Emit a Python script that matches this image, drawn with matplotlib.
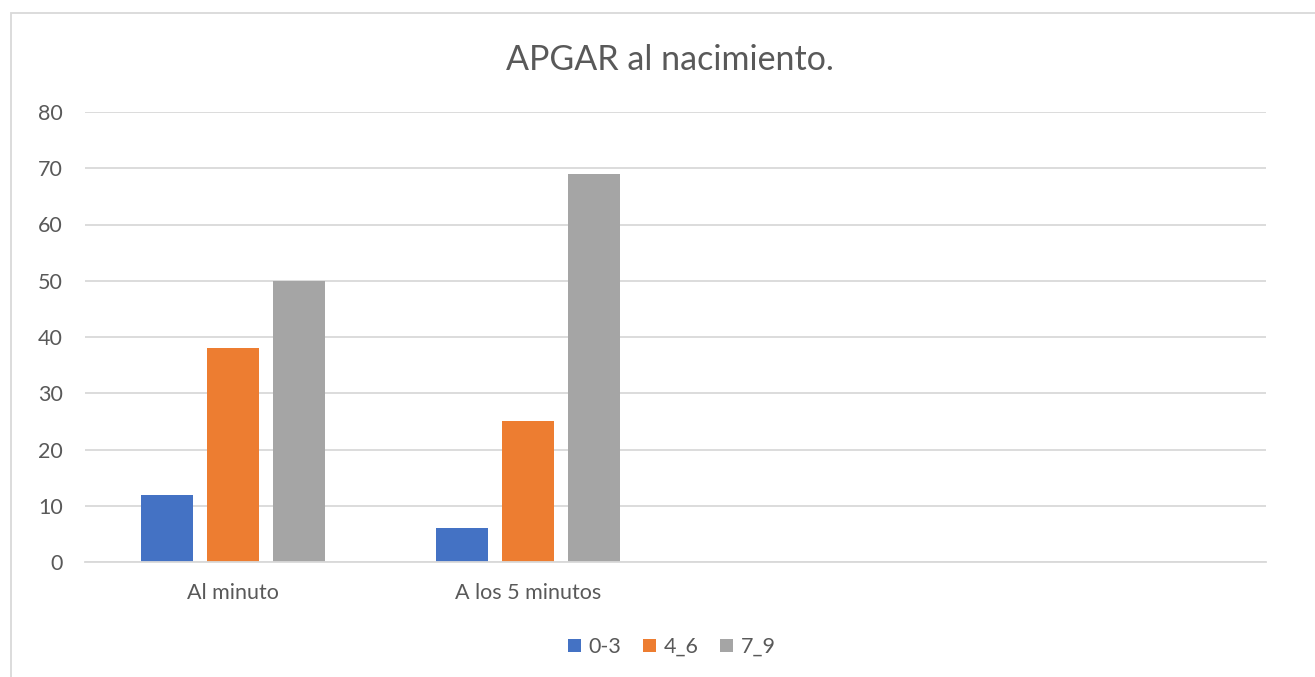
import matplotlib
matplotlib.use("Agg")
import matplotlib.pyplot as plt
from matplotlib.patches import Rectangle, Patch
import numpy as np

categories = ["Al minuto", "A los 5 minutos", "", ""]
series_names = ["0-3", "4_6", "7_9"]
values_0_3 = [12, 6]
values_4_6 = [38, 25]
values_7_9 = [50, 69]
colors = ["#4472C4", "#ED7D31", "#A5A5A5"]
yticks = [0, 10, 20, 30, 40, 50, 60, 70, 80]

TEXT = "#595959"
GRID = "#D9D9D9"
FONT = ["Lato", "DejaVu Sans"]

plt.rcParams["font.family"] = FONT

W, H = 1315, 677
fig = plt.figure(figsize=(W / 100, H / 100), dpi=100)

# chart frame (extends past right and bottom edges of the image)
fig.patches.append(
    Rectangle((11 / W, -0.1), 1.2, (H - 13) / H + 0.1, transform=fig.transFigure,
              fill=False, edgecolor=GRID, linewidth=1.3, clip_on=False)
)

ax = fig.add_axes([85 / W, (H - 562) / H, (1266 - 85) / W, (562 - 112) / H])
ax.set_xlim(-0.5, len(categories) - 0.5)
ax.set_ylim(0, 80)

bar_w = 52 / 295.25
step = 66 / 295.25
series = [values_0_3, values_4_6, values_7_9]
x = np.arange(len(values_0_3))
for k, (vals, col) in enumerate(zip(series, colors)):
    ax.bar(x + (k - 1) * step, vals, width=bar_w, color=col, zorder=3)

ax.set_yticks(yticks)
ax.set_yticklabels([str(t) for t in yticks], fontsize=15.5, color=TEXT)
ax.set_xticks(np.arange(len(categories)))
ax.set_xticklabels(categories, fontsize=15.5, color=TEXT)
ax.tick_params(axis="y", length=0, pad=16)
ax.tick_params(axis="x", length=0, pad=15)
ax.grid(axis="y", color=GRID, linewidth=1.3, zorder=0)
for s in ["top", "right", "left"]:
    ax.spines[s].set_visible(False)
ax.spines["bottom"].set_color(GRID)
ax.spines["bottom"].set_linewidth(1.3)
ax.spines["bottom"].set_zorder(4)

fig.text(670 / W, (H - 60) / H, "APGAR al nacimiento.", ha="center", va="center",
         fontsize=24.5, color=TEXT)

handles = [Patch(facecolor=c, edgecolor="none", label=n) for c, n in zip(colors, series_names)]
fig.legend(handles=handles, loc="center", bbox_to_anchor=(672 / W, (H - 647) / H), ncol=3,
           frameon=False, fontsize=15.5, labelcolor=TEXT, handlelength=0.6, handleheight=0.6,
           handletextpad=0.35, columnspacing=1.0)

fig.savefig("out.png", dpi=100, facecolor="white")
